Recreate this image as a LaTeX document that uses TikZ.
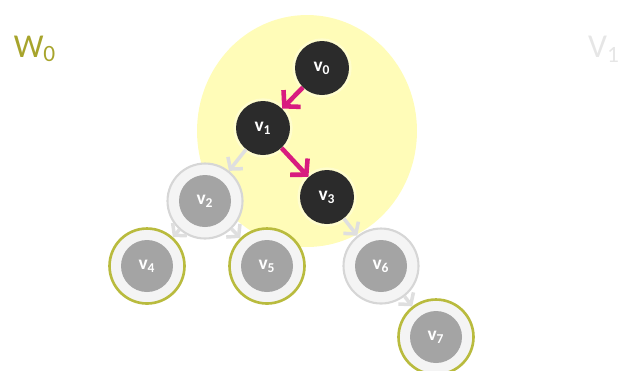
\documentclass[tikz,border=0pt]{standalone}
\usepackage{fontspec}
\setmainfont{Carlito}
\usetikzlibrary{arrows.meta}

\definecolor{paleyellow}{HTML}{FFFCB8}
\definecolor{darknode}{HTML}{2B2B2B}
\definecolor{graynode}{HTML}{A4A4A4}
\definecolor{ringgray}{HTML}{D6D6D6}
\definecolor{ringfill}{HTML}{F4F4F4}
\definecolor{olivering}{HTML}{B9BB3E}
\definecolor{olivetext}{HTML}{A7A42C}
\definecolor{walkmagenta}{HTML}{D81B7F}
\definecolor{fadedarrow}{HTML}{DFDFDF}
\definecolor{fadedlabel}{HTML}{E6E6E6}

\tikzset{
    nodefont/.style={font=\fontsize{11}{13}\bfseries, text=white},
    visited/.style={circle, fill=darknode, minimum size=1.08cm, inner sep=0pt, nodefont,
        preaction={draw=paleyellow!70!white, line width=3pt}},
    waiting/.style={circle, draw=ringgray, line width=1.2pt, fill=ringfill, minimum size=1.5cm,
        inner sep=0pt, nodefont,
        path picture={\fill[graynode] (path picture bounding box.center) circle (0.52cm);}},
    frontier/.style={waiting, draw=olivering, line width=1.5pt},
    walk/.style={-{Straight Barb[length=2.2mm, width=4.8mm]}, walkmagenta, line width=2.6pt},
    faded/.style={-{Straight Barb[length=1.6mm, width=3.8mm]}, fadedarrow, line width=2pt},
    setlabel/.style={font=\fontsize{19}{22}\selectfont}
}

\begin{document}
\begin{tikzpicture}[x=0.02cm, y=-0.02cm]
    \useasboundingbox (0,0) rectangle (624,370);
    % Highlighted region
    \fill[paleyellow] (307,131) ellipse [x radius=2.2cm, y radius=2.32cm];
    % Set labels
    \node[setlabel, text=olivetext] (w0) at (35,49) {W\textsubscript{0}};
    \node[setlabel, text=fadedlabel] (vone) at (604,49) {V\textsubscript{1}};
    % Vertices
    \node[visited] (v0) at (322,68) {v\textsubscript{0}};
    \node[visited] (v1) at (263,128) {v\textsubscript{1}};
    \node[visited] (v3) at (327,197) {v\textsubscript{3}};
    \node[waiting] (v2) at (205,201) {v\textsubscript{2}};
    \node[waiting] (v6) at (381,266) {v\textsubscript{6}};
    \node[frontier] (v4) at (147,266) {v\textsubscript{4}};
    \node[frontier] (v5) at (267,266) {v\textsubscript{5}};
    \node[frontier] (v7) at (436,337) {v\textsubscript{7}};
    % Edges
    \draw[walk] (v0) -- (v1);
    \draw[walk] (v1) -- (v3);
    \foreach \a/\b in {v1/v2, v2/v4, v2/v5, v3/v6, v6/v7}
        \draw[faded] (\a) -- (\b);
\end{tikzpicture}
\end{document}
